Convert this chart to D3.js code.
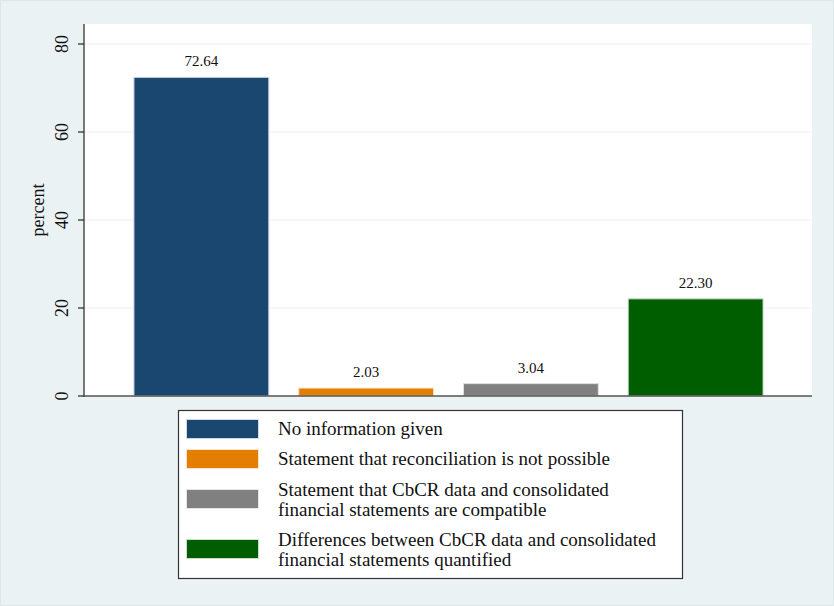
<!DOCTYPE html>
<html><head><meta charset="utf-8">
<script src="https://cdn.jsdelivr.net/npm/d3@7"></script>
<style>html,body{margin:0;padding:0;background:#eaf2f3;}svg{display:block;}</style>
</head><body><svg id="c" width="834" height="606"></svg>
<script>
const categories = ["No information given","Statement that reconciliation is not possible","Statement that CbCR data and consolidated financial statements are compatible","Differences between CbCR data and consolidated financial statements quantified"];
const legendLines = [["No information given"],["Statement that reconciliation is not possible"],["Statement that CbCR data and consolidated","financial statements are compatible"],["Differences between CbCR data and consolidated","financial statements quantified"]];
const values = [72.64, 2.03, 3.04, 22.30];
const labels = ["72.64","2.03","3.04","22.30"];
const colors = ["#1a476f","#e37e00","#808080","#005e00"];
const yTicks = [0,20,40,60,80];

const svg = d3.select("#c");
const font = "'Liberation Serif','Times New Roman',serif";
svg.append("rect").attr("x",0.5).attr("y",0.5).attr("width",833).attr("height",605).attr("fill","#eaf2f3").attr("stroke","#dde6e9");

const L=84,R=812,T=24,B=396;
svg.append("rect").attr("x",L).attr("y",T).attr("width",R-L).attr("height",B-T).attr("fill","#fff");
const y = d3.scaleLinear().domain([0,80]).range([B,44]);
const x = d3.scaleBand().domain(d3.range(values.length)).range([L+29,R+1-29]).paddingInner(30/165).paddingOuter(21/165);

// gridlines
svg.append("g").selectAll("line").data(yTicks.filter(d=>d>0)).join("line")
  .attr("x1",L).attr("x2",R).attr("y1",d=>y(d)).attr("y2",d=>y(d))
  .attr("stroke","#eaf2f3").attr("stroke-width",1.2);

// bars
svg.append("g").selectAll("rect").data(values).join("rect")
  .attr("x",(d,i)=>x(i)).attr("width",x.bandwidth())
  .attr("y",d=>y(d)+1).attr("height",d=>B-y(d)-1)
  .attr("fill",(d,i)=>colors[i]).attr("stroke",(d,i)=>d3.interpolateRgb(colors[i],"#fff")(0.75)).attr("stroke-width",1);

svg.append("g").selectAll("text").data(values).join("text")
  .attr("x",(d,i)=>x(i)+x.bandwidth()/2).attr("y",d=>y(d)-10)
  .attr("text-anchor","middle").attr("font-family",font).attr("font-size",15).attr("fill","#111")
  .text((d,i)=>labels[i]);

// y axis
const ax = svg.append("g").attr("transform",`translate(${L},0)`)
  .call(d3.axisLeft(y).tickValues(yTicks).tickSize(6).tickPadding(4).tickFormat(d3.format("d")));
ax.select(".domain").attr("stroke","#333").attr("stroke-width",1.3).attr("d",`M0,${T}V${B+1}`);
ax.selectAll(".tick line").attr("stroke","#333").attr("stroke-width",1.3);
ax.selectAll(".tick text").attr("font-family",font).attr("font-size",18).attr("fill","#111")
  .attr("transform",function(){return "rotate(-90)";})
  .attr("x",function(d){return -y(d);}).attr("y",-22).attr("dy","0.35em").attr("text-anchor","middle");
ax.selectAll(".tick").attr("transform","translate(0,0)");
ax.selectAll(".tick line").attr("y1",d=>y(d)).attr("y2",d=>y(d)).attr("x2",-6);
// x axis baseline
svg.append("line").attr("x1",L).attr("x2",R).attr("y1",B).attr("y2",B).attr("stroke","#555").attr("stroke-width",1.3);

svg.append("text").attr("transform",`translate(44,${(T+B)/2}) rotate(-90)`)
  .attr("text-anchor","middle").attr("font-family",font).attr("font-size",18).attr("fill","#111").text("percent");

// legend
const lg = svg.append("g");
lg.append("rect").attr("x",178.5).attr("y",410.5).attr("width",504).attr("height",168).attr("fill","#fff").attr("stroke","#333").attr("stroke-width",1.2);
const rowY = [419,449,489,539];
legendLines.forEach((lines,i)=>{
  lg.append("rect").attr("x",186.5).attr("y",rowY[i]+0.5).attr("width",72).attr("height",19)
    .attr("fill",colors[i]).attr("stroke",d3.interpolateRgb(colors[i],"#fff")(0.8));
  const t = lg.append("text").attr("font-family",font).attr("font-size",19).attr("fill","#111");
  const y0 = lines.length===1 ? rowY[i]+16 : rowY[i]+7;
  lines.forEach((s,j)=>t.append("tspan").attr("x",278).attr("y",y0+j*20).text(s));
});
</script></body></html>
